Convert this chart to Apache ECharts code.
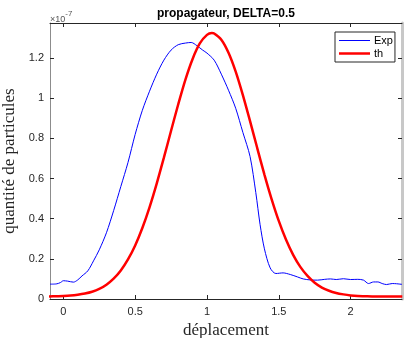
<!DOCTYPE html>
<html><head><meta charset="utf-8">
<script src="https://cdn.jsdelivr.net/npm/echarts@6/dist/echarts.min.js"></script>
<style>html,body{margin:0;padding:0;background:#fff}#c{width:409px;height:338px}</style>
</head><body><div id="c"></div>
<script>
// x tick labels and y tick labels (y in units of 1e-7)
const xTicks = [0, 0.5, 1, 1.5, 2];
const yTicks = [0, 0.2, 0.4, 0.6, 0.8, 1.0, 1.2];

// Exp (blue)
const expX = [-0.093,-0.05,-0.02,0,0.03,0.07,0.10,0.13,0.17,0.21,0.25,0.30,0.35,0.40,0.45,0.50,0.55,0.60,0.65,0.70,0.75,0.80,0.85,0.89,0.93,0.97,1.00,1.05,1.10,1.15,1.20,1.25,1.30,1.34,1.37,1.40,1.44,1.48,1.53,1.58,1.63,1.67,1.72,1.77,1.82,1.86,1.90,1.95,2.00,2.05,2.09,2.125,2.16,2.19,2.22,2.25,2.29,2.32,2.358];
const expY = [0.074,0.075,0.082,0.091,0.089,0.084,0.095,0.115,0.140,0.190,0.245,0.330,0.440,0.560,0.680,0.820,0.940,1.035,1.120,1.190,1.240,1.267,1.275,1.278,1.262,1.240,1.225,1.190,1.120,1.040,0.950,0.830,0.710,0.530,0.370,0.250,0.155,0.127,0.130,0.122,0.110,0.100,0.095,0.094,0.098,0.100,0.097,0.101,0.097,0.098,0.094,0.077,0.085,0.085,0.077,0.072,0.077,0.076,0.073];

// th (red)
const thX = [-0.1,-0.05,0,0.05,0.1,0.15,0.2,0.25,0.3,0.35,0.4,0.45,0.5,0.55,0.6,0.65,0.7,0.75,0.8,0.85,0.9,0.95,1.0,1.034,1.05,1.1,1.15,1.2,1.25,1.3,1.35,1.4,1.45,1.5,1.55,1.6,1.65,1.7,1.75,1.8,1.85,1.9,1.95,2.0,2.05,2.1,2.15,2.2,2.25,2.3,2.36];
const thY = [0.013,0.014,0.015,0.017,0.021,0.027,0.036,0.050,0.071,0.101,0.142,0.197,0.267,0.354,0.457,0.575,0.704,0.838,0.970,1.093,1.196,1.273,1.316,1.325,1.323,1.292,1.227,1.133,1.016,0.886,0.752,0.620,0.498,0.389,0.296,0.220,0.160,0.115,0.081,0.057,0.041,0.030,0.023,0.018,0.015,0.014,0.013,0.013,0.013,0.013,0.013];

const seriesNames = ['Exp', 'th'];
const titleText = 'propagateur, DELTA=0.5';
const xName = 'déplacement';
const yName = 'quantité de particules';

const zip = (a, b) => a.map((v, i) => [v, b[i]]);
const SANS = '"Liberation Sans", Arial, sans-serif';
const SERIF = '"Liberation Serif", "Times New Roman", serif';
const XMIN = -0.093, XMAX = 2.358, YMIN = 0, YMAX = 1.375;

const chart = echarts.init(document.getElementById('c'), null, {renderer: 'canvas'});
chart.setOption({
  animation: false,
  backgroundColor: '#fff',
  grid: {left: 50, right: 7, top: 23, bottom: 39, containLabel: false, outerBoundsMode: 'none'},
  graphic: [
    {type: 'text', left: 157, top: 8, style: {text: titleText, font: 'bold 12px ' + SANS, fill: '#000'}},
    {type: 'text', left: 50, top: 10, style: {
      text: '{a|×10}{b|-7}', fill: '#555',
      rich: {a: {font: '9px ' + SANS, fill: '#555', padding: [5, 0, 0, 0]}, b: {font: '8px ' + SANS, fill: '#555', verticalAlign: 'top'}}
    }}
  ],
  legend: {
    left: 335, top: 32, orient: 'vertical',
    data: [
      {name: seriesNames[0], icon: 'path://M0,0h62v2h-62z'},
      {name: seriesNames[1], icon: 'path://M0,0h62v5h-62z'}
    ],
    borderColor: '#262626', borderWidth: 1, borderRadius: 0,
    padding: [3, 2, 3, 4], itemGap: 2, itemWidth: 31, itemHeight: 11,
    backgroundColor: '#fff',
    textStyle: {fontFamily: SANS, fontSize: 11, color: '#000', padding: [0, 0, 0, -1]}
  },
  xAxis: [
    {type: 'value', min: XMIN, max: XMAX, position: 'bottom',
     name: xName, nameLocation: 'middle', nameGap: 21,
     nameTextStyle: {fontFamily: SERIF, fontSize: 17, color: '#262626'},
     axisLine: {show: true, onZero: false, lineStyle: {color: '#262626', width: 1}},
     axisTick: {show: true, inside: true, length: 4, customValues: xTicks, lineStyle: {color: '#262626'}},
     axisLabel: {customValues: xTicks, margin: 7, fontFamily: SANS, fontSize: 11, color: '#262626', formatter: v => String(v)},
     splitLine: {show: false}},
    {type: 'value', min: XMIN, max: XMAX, position: 'top',
     axisLine: {show: true, onZero: false, lineStyle: {color: '#262626', width: 1}},
     axisTick: {show: true, inside: true, length: 4, customValues: xTicks, lineStyle: {color: '#262626'}},
     axisLabel: {show: false}, splitLine: {show: false}}
  ],
  yAxis: [
    {type: 'value', min: YMIN, max: YMAX, position: 'left',
     name: yName, nameLocation: 'middle', nameGap: 26,
     nameTextStyle: {fontFamily: SERIF, fontSize: 17, color: '#262626'},
     axisLine: {show: true, onZero: false, lineStyle: {color: '#8c8c8c', width: 1}},
     axisTick: {show: true, inside: true, length: 4, customValues: yTicks, lineStyle: {color: '#262626'}},
     axisLabel: {customValues: yTicks, margin: 6, fontFamily: SANS, fontSize: 11, color: '#262626', formatter: v => String(v)},
     splitLine: {show: false}},
    {type: 'value', min: YMIN, max: YMAX, position: 'right',
     axisLine: {show: true, onZero: false, lineStyle: {color: '#c8c8c8', width: 3}},
     axisTick: {show: true, inside: true, length: 4, customValues: yTicks, lineStyle: {color: '#262626'}},
     axisLabel: {show: false}, splitLine: {show: false}}
  ],
  series: [
    {name: seriesNames[0], type: 'line', data: zip(expX, expY), symbol: 'none', smooth: 0.3,
     lineStyle: {color: '#0000ff', width: 1}, itemStyle: {color: '#0000ff'}},
    {name: seriesNames[1], type: 'line', data: zip(thX, thY), symbol: 'none', smooth: 0.3,
     lineStyle: {color: '#ff0000', width: 2.5}, itemStyle: {color: '#ff0000'}}
  ]
});
</script></body></html>
